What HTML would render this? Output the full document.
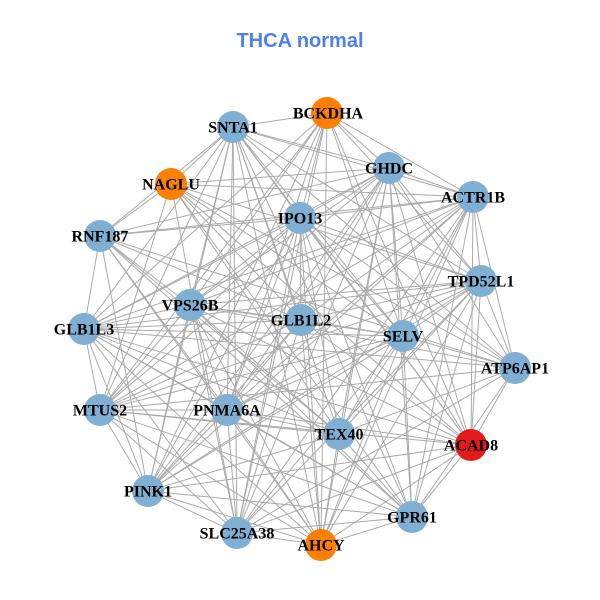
<!DOCTYPE html>
<html><head><meta charset="utf-8"><style>
html,body{margin:0;padding:0;background:#fff;}
svg{display:block;}
.l{font-family:"Liberation Serif",serif;font-weight:bold;font-size:16px;fill:#000;text-anchor:middle;dominant-baseline:central;}
</style></head><body>
<svg id="s" width="600" height="600" viewBox="0 0 600 600">
<rect width="600" height="600" fill="#fff"/>
<text x="300" y="41" text-anchor="middle" dominant-baseline="central" font-family="Liberation Sans, sans-serif" font-weight="bold" font-size="20" fill="#4f7fef">THCA normal</text>
<g id="edges" stroke="#aaaaaa" stroke-width="1"></g>
<g id="nodes"></g>
<g>
<text class="l" x="328" y="114">BCKDHA</text>
<text class="l" x="233" y="128">SNTA1</text>
<text class="l" x="389" y="169">GHDC</text>
<text class="l" x="171" y="185">NAGLU</text>
<text class="l" x="473" y="198">ACTR1B</text>
<text class="l" x="300" y="219">IPO13</text>
<text class="l" x="100" y="237">RNF187</text>
<text class="l" x="481" y="282">TPD52L1</text>
<text class="l" x="190" y="306">VPS26B</text>
<text class="l" x="301" y="321">GLB1L2</text>
<text class="l" x="403" y="337">SELV</text>
<text class="l" x="84" y="330">GLB1L3</text>
<text class="l" x="515" y="369">ATP6AP1</text>
<text class="l" x="100" y="411">MTUS2</text>
<text class="l" x="227" y="411">PNMA6A</text>
<text class="l" x="339" y="435">TEX40</text>
<text class="l" x="471" y="446">ACAD8</text>
<text class="l" x="148" y="492">PINK1</text>
<text class="l" x="412" y="518">GPR61</text>
<text class="l" x="237" y="534">SLC25A38</text>
<text class="l" x="321" y="546">AHCY</text>
</g>
</svg>
<script>
var N=[[327,113,"#ff7f00"],[233,127],[389,168],[171,184,"#ff7f00"],[473,197],[300,218],[100,236],[481,281],[190,305],[301,320],[403,336],[84,329],[515,368],[100,410],[227,410],[339,434],[471,445,"#e31a1c"],[148,491],[412,517],[237,533],[321,545,"#ff7f00"]];
var ns="http://www.w3.org/2000/svg",E=document.getElementById("edges"),G=document.getElementById("nodes");
for(var i=0;i<N.length;i++)for(var j=i+1;j<N.length;j++){if((i*7+j*3)%9==0)continue;var l=document.createElementNS(ns,"line");l.setAttribute("x1",N[i][0]);l.setAttribute("y1",N[i][1]);l.setAttribute("x2",N[j][0]);l.setAttribute("y2",N[j][1]);E.appendChild(l);}
N.forEach(function(n){var c=document.createElementNS(ns,"circle");c.setAttribute("cx",n[0]);c.setAttribute("cy",n[1]);c.setAttribute("r",16);c.setAttribute("fill",n[2]||"#7fafd2");G.appendChild(c);});
</script>
</body></html>
